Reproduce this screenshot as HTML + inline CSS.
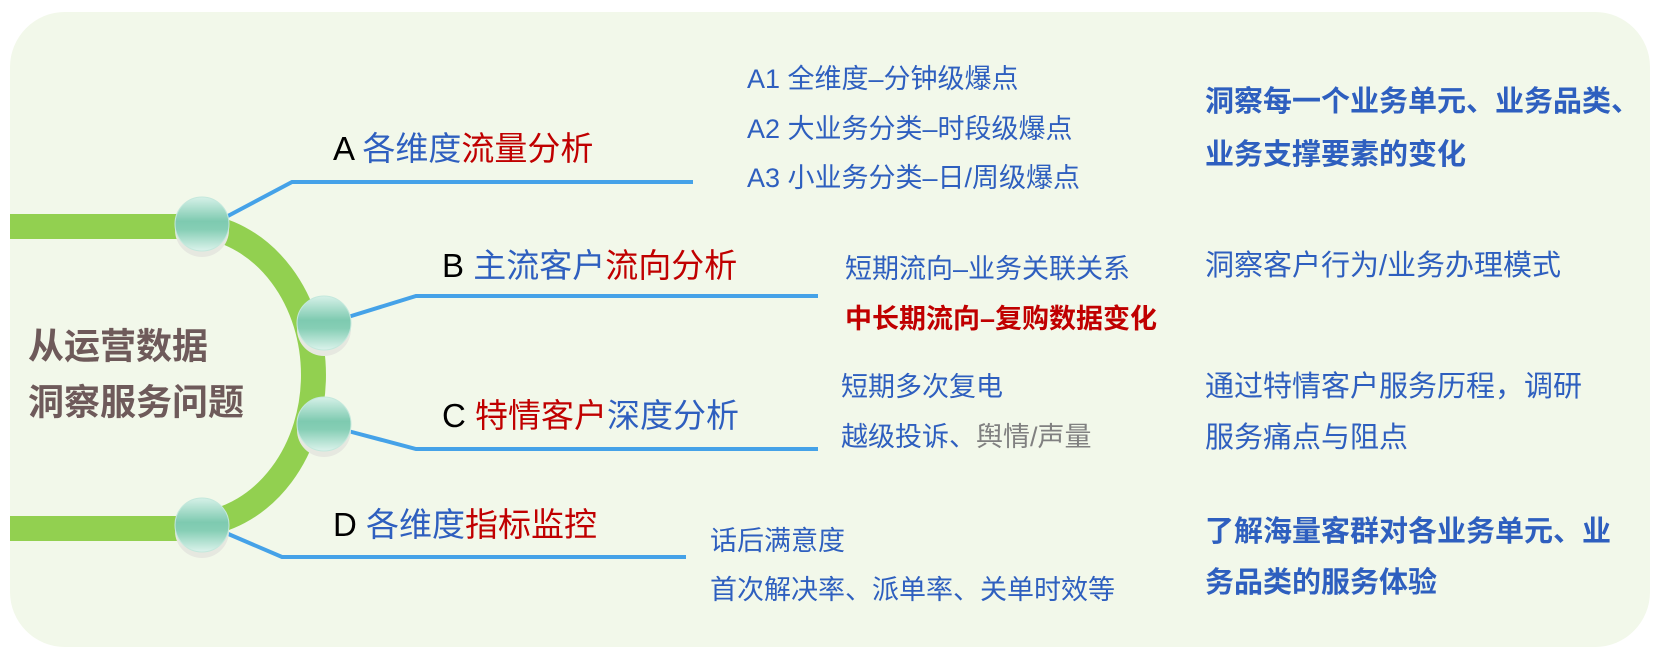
<!DOCTYPE html>
<html><head><meta charset="utf-8"><style>
html,body{margin:0;padding:0;background:#fff;}
svg{display:block;}
text{font-family:"Liberation Sans","Noto Sans CJK SC",sans-serif;dominant-baseline:central;}
</style></head><body>
<svg width="1663" height="659" viewBox="0 0 1663 659" xmlns="http://www.w3.org/2000/svg">
<defs>
<linearGradient id="g" x1="0" y1="0" x2="0" y2="1">
<stop offset="0" stop-color="#d6f1e8"/>
<stop offset="0.45" stop-color="#7ecab0"/>
<stop offset="0.6" stop-color="#86ceb5"/>
<stop offset="1" stop-color="#dcf3ec"/>
</linearGradient>
</defs>
<rect x="10" y="12" width="1640" height="635" rx="55" ry="55" fill="#f2f8ea"/>
<rect x="10" y="214" width="180" height="25" fill="#92d050"/>
<rect x="10" y="516" width="180" height="25" fill="#92d050"/>
<path d="M 202 226 A 126 150 0 0 1 202 524" fill="none" stroke="#92d050" stroke-width="25"/>
<g fill="none" stroke="#45a2e8" stroke-width="4">
<polyline points="226,217 292,182 693,182"/>
<polyline points="348,317 416,296 818,296"/>
<polyline points="348,431 416,449 818,449"/>
<polyline points="226,533 282,557 686,557"/>
</g>
<g>
<ellipse cx="202" cy="230" rx="27" ry="27" fill="#e6e8e0"/>
<ellipse cx="202" cy="224" rx="27" ry="27" fill="url(#g)" stroke="#c4e8dc" stroke-width="1"/>
<ellipse cx="324" cy="329" rx="27" ry="27" fill="#e6e8e0"/>
<ellipse cx="324" cy="323" rx="27" ry="27" fill="url(#g)" stroke="#c4e8dc" stroke-width="1"/>
<ellipse cx="324" cy="430" rx="27" ry="27" fill="#e6e8e0"/>
<ellipse cx="324" cy="424" rx="27" ry="27" fill="url(#g)" stroke="#c4e8dc" stroke-width="1"/>
<ellipse cx="202" cy="531" rx="27" ry="27" fill="#e6e8e0"/>
<ellipse cx="202" cy="525" rx="27" ry="27" fill="url(#g)" stroke="#c4e8dc" stroke-width="1"/>
</g>
<text x="28" y="346" font-size="36" font-weight="bold" fill="#6e5a5a">从运营数据</text>
<text x="28" y="402" font-size="36" font-weight="bold" fill="#6e5a5a">洞察服务问题</text>
<text x="333" y="148" font-size="33"><tspan fill="#000">A </tspan><tspan fill="#2e5fbf">各维度</tspan><tspan fill="#c00000">流量分析</tspan></text>
<text x="442" y="265" font-size="33"><tspan fill="#000">B </tspan><tspan fill="#2e5fbf">主流客户</tspan><tspan fill="#c00000">流向分析</tspan></text>
<text x="442" y="415" font-size="33"><tspan fill="#000">C </tspan><tspan fill="#c00000">特情客户</tspan><tspan fill="#2e5fbf">深度分析</tspan></text>
<text x="333" y="524" font-size="33"><tspan fill="#000">D </tspan><tspan fill="#2e5fbf">各维度</tspan><tspan fill="#c00000">指标监控</tspan></text>
<g font-size="27" fill="#2e5fbf">
<text x="747" y="79">A1 全维度–分钟级爆点</text>
<text x="747" y="129">A2 大业务分类–时段级爆点</text>
<text x="747" y="178">A3 小业务分类–日/周级爆点</text>
<text x="845" y="269">短期流向–业务关联关系</text>
<text x="845" y="319" font-weight="bold" fill="#c00000">中长期流向–复购数据变化</text>
<text x="841" y="387">短期多次复电</text>
<text x="841" y="437">越级投诉、<tspan fill="#808080">舆情/声量</tspan></text>
<text x="710" y="541">话后满意度</text>
<text x="710" y="590">首次解决率、派单率、关单时效等</text>
</g>
<g font-size="29" fill="#2e5fbf">
<text x="1205" y="102" font-weight="bold">洞察每一个业务单元、业务品类、</text>
<text x="1205" y="155" font-weight="bold">业务支撑要素的变化</text>
<text x="1205" y="266">洞察客户行为/业务办理模式</text>
<text x="1205" y="387">通过特情客户服务历程，调研</text>
<text x="1205" y="438">服务痛点与阻点</text>
<text x="1205" y="532" font-weight="bold">了解海量客群对各业务单元、业</text>
<text x="1205" y="583" font-weight="bold">务品类的服务体验</text>
</g>
</svg>
</body></html>
